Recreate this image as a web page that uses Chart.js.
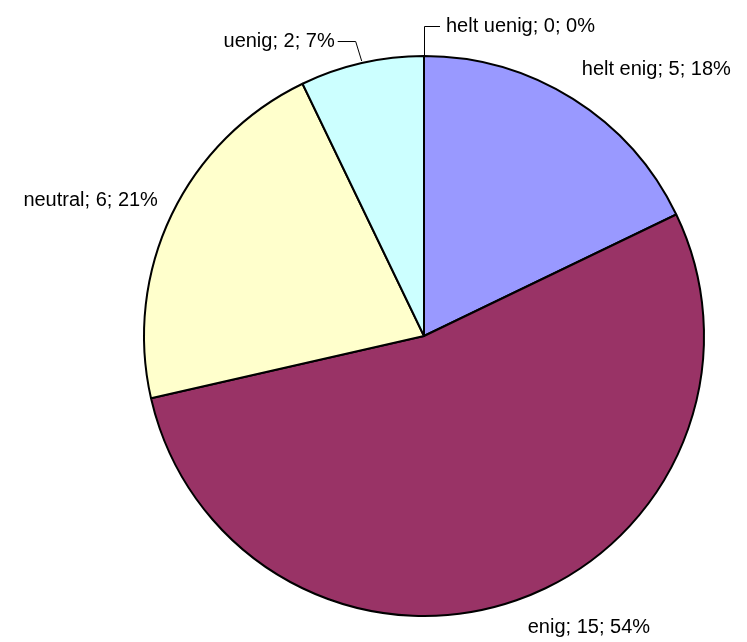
<!DOCTYPE html>
<html>
<head>
<meta charset="utf-8">
<script src="https://cdn.jsdelivr.net/npm/chart.js@4/dist/chart.umd.min.js"></script>
<style>
  html, body { margin: 0; padding: 0; background: #fff; }
  #wrap { width: 747px; height: 642px; }
</style>
</head>
<body>
<div id="wrap"><canvas id="kake"></canvas></div>
<script>
const kategorier = ['helt enig', 'enig', 'neutral', 'uenig', 'helt uenig'];
const antall = [5, 15, 6, 2, 0];
const prosent = ['18%', '54%', '21%', '7%', '0%'];
const farger = ['#9999FF', '#993366', '#FFFFCC', '#CCFFFF', '#FFFFFF'];

// labels drawn outside the pie, some with leader lines
const etiketter = {
  id: 'etiketter',
  afterDraw(chart) {
    const ctx = chart.ctx;
    const meta = chart.getDatasetMeta(0);
    ctx.save();
    ctx.font = '20px "Liberation Sans", Arial, sans-serif';
    ctx.fillStyle = '#000';
    ctx.strokeStyle = '#000';
    ctx.lineWidth = 1;
    ctx.textBaseline = 'middle';

    // small nudges so labels sit like the original
    const nudge = [[-5, -7], [4, 6], [6, -4]];

    meta.data.forEach((arc, i) => {
      const tekst = kategorier[i] + '; ' + antall[i] + '; ' + prosent[i];
      const mid = (arc.startAngle + arc.endAngle) / 2;
      const r = arc.outerRadius;
      const cx = arc.x, cy = arc.y;
      const ex = cx + Math.cos(mid) * r;
      const ey = cy + Math.sin(mid) * r;

      if (i === 4) {
        // helt uenig: vertical leader then right
        ctx.beginPath();
        ctx.moveTo(ex + 0.5, ey);
        ctx.lineTo(ex + 0.5, ey - 29.5);
        ctx.lineTo(ex + 16, ey - 29.5);
        ctx.stroke();
        ctx.textAlign = 'left';
        ctx.fillText(tekst, ex + 22, ey - 30);
      } else if (i === 3) {
        // uenig: short leader up and to the left
        ctx.beginPath();
        ctx.moveTo(ex, ey - 2);
        ctx.lineTo(ex - 6, ey - 21.5);
        ctx.lineTo(ex - 24, ey - 21.5);
        ctx.stroke();
        ctx.textAlign = 'right';
        ctx.fillText(tekst, ex - 27, ey - 22);
      } else {
        const d = i === 0 ? 26 : 22;
        const lx = cx + Math.cos(mid) * (r + d) + nudge[i][0];
        const ly = cy + Math.sin(mid) * (r + d) + nudge[i][1];
        ctx.textAlign = lx >= cx ? 'left' : 'right';
        ctx.fillText(tekst, lx, ly);
      }
    });
    ctx.restore();
  }
};

new Chart(document.getElementById('kake'), {
  type: 'pie',
  data: {
    labels: kategorier,
    datasets: [{
      data: antall,
      backgroundColor: farger,
      borderColor: '#000',
      borderWidth: 2
    }]
  },
  options: {
    responsive: true,
    maintainAspectRatio: false,
    animation: false,
    layout: { padding: { left: 143, right: 42, top: 55, bottom: 25 } },
    plugins: {
      legend: { display: false },
      tooltip: { enabled: false }
    }
  },
  plugins: [etiketter]
});
</script>
</body>
</html>
